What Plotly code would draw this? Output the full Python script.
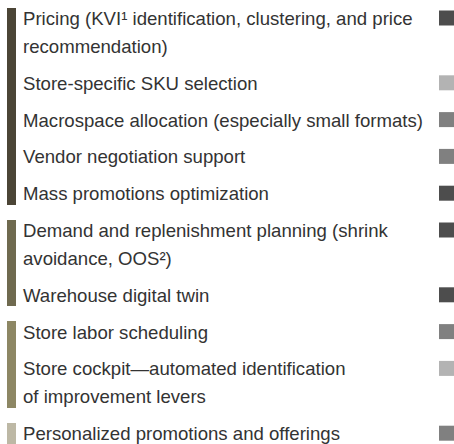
import plotly.graph_objects as go

# ---- data ----
item_lines = [
    ["Pricing (KVI\u00b9 identification, clustering, and price", "recommendation)"],
    ["Store-specific SKU selection"],
    ["Macrospace allocation (especially small formats)"],
    ["Vendor negotiation support"],
    ["Mass promotions optimization"],
    ["Demand and replenishment planning (shrink", "avoidance, OOS\u00b2)"],
    ["Warehouse digital twin"],
    ["Store labor scheduling"],
    ["Store cockpit\u2014automated identification", "of improvement levers"],
    ["Personalized promotions and offerings"],
]
item_group = [0, 0, 0, 0, 0, 1, 1, 2, 2, 3]
item_rating = [3, 1, 2, 2, 3, 3, 3, 2, 1, 2]   # 3 = high, 2 = medium, 1 = low

group_colors = ["#4b4536", "#6f6a4f", "#8d8764", "#bdb8a5"]
rating_colors = {3: "#4d4d4d", 2: "#808080", 1: "#b3b3b3"}

# ---- layout constants (pixels) ----
W, H = 454, 444
first_line = 18.5
line_step = 28
item_step = 36.8
text_x = 23
bar_x, bar_w = 11.5, 9
sq_x, sq_size = 446.5, 15
FONT = "Liberation Sans"
FONT_SIZE = 18.6

# compute line positions
line_y = []
y = first_line
for lines in item_lines:
    ys = [y + i * line_step for i in range(len(lines))]
    line_y.append(ys)
    y = ys[-1] + item_step

fig = go.Figure()

# group bars
for g, col in enumerate(group_colors):
    idx = [i for i, gg in enumerate(item_group) if gg == g]
    top = line_y[idx[0]][0] - 10.8
    bottom = line_y[idx[-1]][-1] + 10.8
    if g == len(group_colors) - 1:
        bottom = H + 10
    fig.add_trace(go.Bar(
        x=[bar_x], y=[bottom - top], base=[top], width=[bar_w],
        marker=dict(color=col, line=dict(width=0)),
        hoverinfo="skip", showlegend=False))

# rating squares
fig.add_trace(go.Scatter(
    x=[sq_x] * len(item_rating),
    y=[ys[0] - 0.5 for ys in line_y],
    mode="markers",
    marker=dict(symbol="square", size=sq_size,
                color=[rating_colors[r] for r in item_rating],
                line=dict(width=0)),
    cliponaxis=False,
    hoverinfo="skip", showlegend=False))

# labels
for lines, ys in zip(item_lines, line_y):
    for t, yy in zip(lines, ys):
        fig.add_annotation(x=text_x, y=yy, text=t, xref="x", yref="y",
                           xanchor="left", yanchor="middle", showarrow=False,
                           font=dict(family=FONT, size=FONT_SIZE, color="#333333"),
                           borderpad=0, borderwidth=0)

fig.update_layout(
    width=W, height=H,
    margin=dict(l=0, r=0, t=0, b=0),
    paper_bgcolor="white", plot_bgcolor="white",
    bargap=0,
    xaxis=dict(range=[0, W], visible=False, fixedrange=True),
    yaxis=dict(range=[H, 0], visible=False, fixedrange=True),
)

fig.write_html(
    "out.html",
    config={"displayModeBar": False, "staticPlot": True},
    post_script="document.body.style.margin='0';document.body.style.overflow='hidden';",
)
